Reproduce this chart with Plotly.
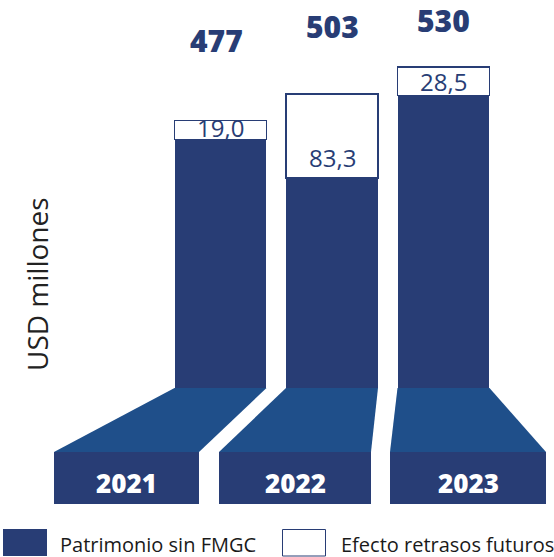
import plotly.graph_objects as go

# ---- data ----
years = ["2021", "2022", "2023"]
patrimonio = [458.0, 419.7, 501.5]
efecto = [19.0, 83.3, 28.5]
efecto_labels = ["19,0", "83,3", "28,5"]
totals = [477, 503, 530]
total_labels = ["477", "503", "530"]
series_names = ["Patrimonio sin FMGC", "Efecto retrasos futuros"]
axis_title = "USD millones"

# ---- style / layout constants ----
NAVY = "#283d75"
BASE_BLUE = "#1f4f8a"
TEXT = "#1a1a1a"
FONT = "Open Sans"
W, H = 554, 557
PLOT_BOTTOM = 388          # pixel row where plot area ends
CAT0_PX, CAT_STEP = 220.5, 111.5
BARFRAC = 0.825
Y_RANGE = [211.7, 596.4]


def px(x):
    return x / W


def py(y):
    return (PLOT_BOTTOM - y) / PLOT_BOTTOM


fig = go.Figure()
fig.add_bar(x=years, y=patrimonio, name=series_names[0],
            marker=dict(color=NAVY, line=dict(width=0)), hoverinfo="skip")
fig.add_bar(x=years, y=efecto, name=series_names[1],
            marker=dict(color="white", line=dict(color=NAVY, width=1.5)), hoverinfo="skip")

x_lo = -CAT0_PX / CAT_STEP
x_hi = (W - CAT0_PX) / CAT_STEP

annotations = []
shapes = []

# labels inside the white segments
label_frac = [0.62, 0.25, 0.5]
for i, y in enumerate(years):
    annotations.append(dict(x=i, y=patrimonio[i] + efecto[i] * label_frac[i], text=efecto_labels[i],
                            xanchor="center", yanchor="middle",
                            showarrow=False, font=dict(family=FONT, size=24, color=NAVY)))

# totals above bars
total_shift = [80, 68, 46]
total_xshift = [-4, 0, 0]
for i, y in enumerate(years):
    annotations.append(dict(x=i, y=totals[i], xanchor="center", yanchor="middle",
                            yshift=total_shift[i], xshift=total_xshift[i],
                            text=total_labels[i], showarrow=False,
                            font=dict(family=FONT, size=30, color=NAVY, weight=800)))

# perspective bases + year boxes
base_bottoms = [(54, 199), (219, 371), (390, 546)]
BASE_TOP_Y, BOX_TOP_Y, BOX_BOT_Y = 388, 452, 504
for i, (bl, br) in enumerate(base_bottoms):
    c = CAT0_PX + CAT_STEP * i
    tl, tr = c - BARFRAC * CAT_STEP / 2, c + BARFRAC * CAT_STEP / 2
    path = (f"M {px(tl)} {py(BASE_TOP_Y)} L {px(tr)} {py(BASE_TOP_Y)} "
            f"L {px(br)} {py(BOX_TOP_Y)} L {px(bl)} {py(BOX_TOP_Y)} Z")
    shapes.append(dict(type="path", path=path, xref="paper", yref="paper",
                       fillcolor=BASE_BLUE, line=dict(width=0)))
    shapes.append(dict(type="rect", xref="paper", yref="paper",
                       x0=px(bl), x1=px(br), y0=py(BOX_BOT_Y), y1=py(BOX_TOP_Y),
                       fillcolor=NAVY, line=dict(width=0)))
    annotations.append(dict(xref="paper", yref="paper", x=px((bl + br) / 2),
                            y=py((BOX_TOP_Y + BOX_BOT_Y) / 2 + 5), text=years[i],
                            xanchor="center", yanchor="middle", showarrow=False,
                            font=dict(family=FONT, size=26, color="white", weight=800)))

# custom legend
shapes.append(dict(type="rect", xref="paper", yref="paper", x0=px(3), x1=px(47),
                   y0=py(556), y1=py(529), fillcolor=NAVY, line=dict(width=0)))
shapes.append(dict(type="rect", xref="paper", yref="paper", x0=px(282.5), x1=px(325.5),
                   y0=py(556), y1=py(529.5), fillcolor="white", line=dict(color=NAVY, width=1)))
annotations.append(dict(xref="paper", yref="paper", x=px(58), y=py(544), xanchor="left",
                        yanchor="middle", text=series_names[0], showarrow=False,
                        font=dict(family=FONT, size=20, color=TEXT)))
annotations.append(dict(xref="paper", yref="paper", x=px(339), y=py(544), xanchor="left",
                        yanchor="middle", text=series_names[1], showarrow=False,
                        font=dict(family=FONT, size=20, color=TEXT)))

# y title
annotations.append(dict(xref="paper", yref="paper", x=px(37), y=py(284), text=axis_title,
                        xanchor="center", yanchor="middle",
                        textangle=-90, showarrow=False,
                        font=dict(family=FONT, size=28, color="#222222")))

fig.update_layout(
    width=W, height=H, margin=dict(l=0, r=0, t=0, b=H - PLOT_BOTTOM),
    barmode="stack", bargap=1 - BARFRAC, showlegend=False,
    plot_bgcolor="white", paper_bgcolor="white",
    xaxis=dict(range=[x_lo, x_hi], visible=False, type="category"),
    yaxis=dict(range=Y_RANGE, visible=False),
    annotations=annotations, shapes=shapes,
    font=dict(family=FONT),
)

fig.write_html("out.html", config={"displayModeBar": False},
               post_script="document.body.style.margin='0';")
